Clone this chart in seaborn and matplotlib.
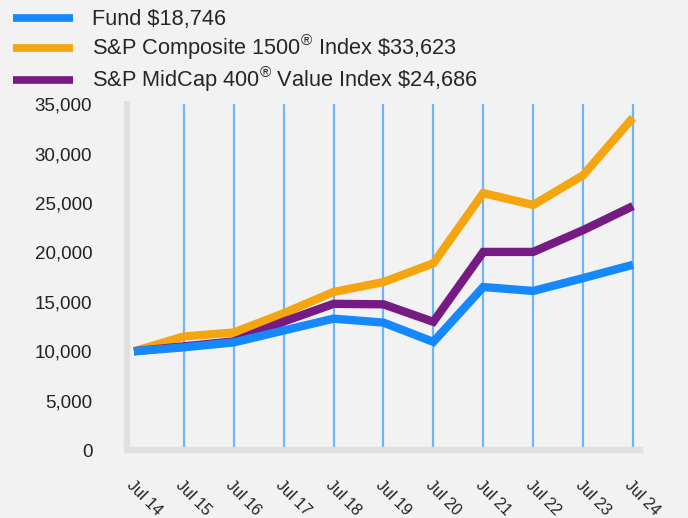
import matplotlib
matplotlib.use('Agg')
import matplotlib.pyplot as plt
import matplotlib.transforms as mtransforms
import seaborn as sns
import pandas as pd
from matplotlib.lines import Line2D

years = ['Jul 14', 'Jul 15', 'Jul 16', 'Jul 17', 'Jul 18', 'Jul 19',
         'Jul 20', 'Jul 21', 'Jul 22', 'Jul 23', 'Jul 24']
fund = [10000, 10400, 10900, 12100, 13300, 12900, 10950, 16500, 16100, 17400, 18746]
composite = [10000, 11500, 11900, 13850, 16000, 17000, 18900, 26000, 24800, 27800, 33623]
midcap = [10000, 10500, 11000, 13000, 14800, 14750, 12980, 20050, 20050, 22250, 24686]

fund_label = 'Fund $18,746'
composite_label = r'S&P Composite 1500$^{®}$ Index \$33,623'
midcap_label = r'S&P MidCap 400$^{®}$ Value Index \$24,686'

yticks = [0, 5000, 10000, 15000, 20000, 25000, 30000, 35000]

blue = '#1589fb'
orange = '#f4a50f'
purple = '#761b83'
grid_blue = '#6fb5fc'
spine_gray = '#e0e0e0'
bg = '#f2f2f2'

sns.set_style('white')
plt.rcParams['font.family'] = ['Liberation Sans', 'DejaVu Sans']
plt.rcParams['mathtext.fontset'] = 'custom'
plt.rcParams['mathtext.rm'] = 'Liberation Sans'
plt.rcParams['mathtext.it'] = 'Liberation Sans'
plt.rcParams['mathtext.bf'] = 'Liberation Sans'

fig = plt.figure(figsize=(6.88, 5.18), dpi=100)
fig.set_facecolor(bg)
ax = fig.add_axes([0.1846, 0.131, 0.7455, 0.668])
ax.set_facecolor(bg)

x = list(range(len(years)))
# draw order: orange under purple under blue
for vals, col in [(composite, orange), (midcap, purple), (fund, blue)]:
    df = pd.DataFrame({'x': x, 'y': vals})
    sns.lineplot(data=df, x='x', y='y', ax=ax, color=col, linewidth=6,
                 solid_joinstyle='miter', solid_capstyle='butt', zorder=3)

ax.set_xlim(-0.14, 10.14)
ax.set_ylim(0, 35000)
ax.set_xticks(x)
ax.set_xticklabels(years, rotation=-45, ha='left', va='top', rotation_mode='anchor', fontsize=11.5)
ax.set_yticks(yticks)
ax.set_yticklabels([f'{v:,}' for v in yticks], fontsize=13.5)
ax.set_xlabel('')
ax.set_ylabel('')

# nudge rotated labels a bit right
shift = mtransforms.ScaledTranslation(4 / 100, 0, fig.dpi_scale_trans)
for lbl in ax.get_xticklabels():
    lbl.set_transform(lbl.get_transform() + shift)

ax.grid(axis='x', color=grid_blue, linewidth=1.6)
ax.grid(axis='y', visible=False)
ax.xaxis.get_gridlines()[0].set_visible(False)
ax.set_axisbelow(True)

for side in ['top', 'right']:
    ax.spines[side].set_visible(False)
for side in ['left', 'bottom']:
    ax.spines[side].set_color(spine_gray)
    ax.spines[side].set_linewidth(4.5)
ax.tick_params(axis='x', length=6, width=2, color=spine_gray, pad=14, labelcolor='#222222')
ax.tick_params(axis='y', length=7, width=2, color=spine_gray, pad=18, labelcolor='#222222')

handles = [Line2D([], [], color=c, linewidth=5.5, solid_capstyle='butt')
           for c in [blue, orange, purple]]
fig.legend(handles, [fund_label, composite_label, midcap_label],
           loc='upper left', bbox_to_anchor=(13 / 688, 0.982), frameon=False,
           fontsize=15.7, handlelength=2.75, handletextpad=0.85, labelspacing=0.12,
           borderpad=0, borderaxespad=0)

fig.savefig('out.png', dpi=100, facecolor=bg)
